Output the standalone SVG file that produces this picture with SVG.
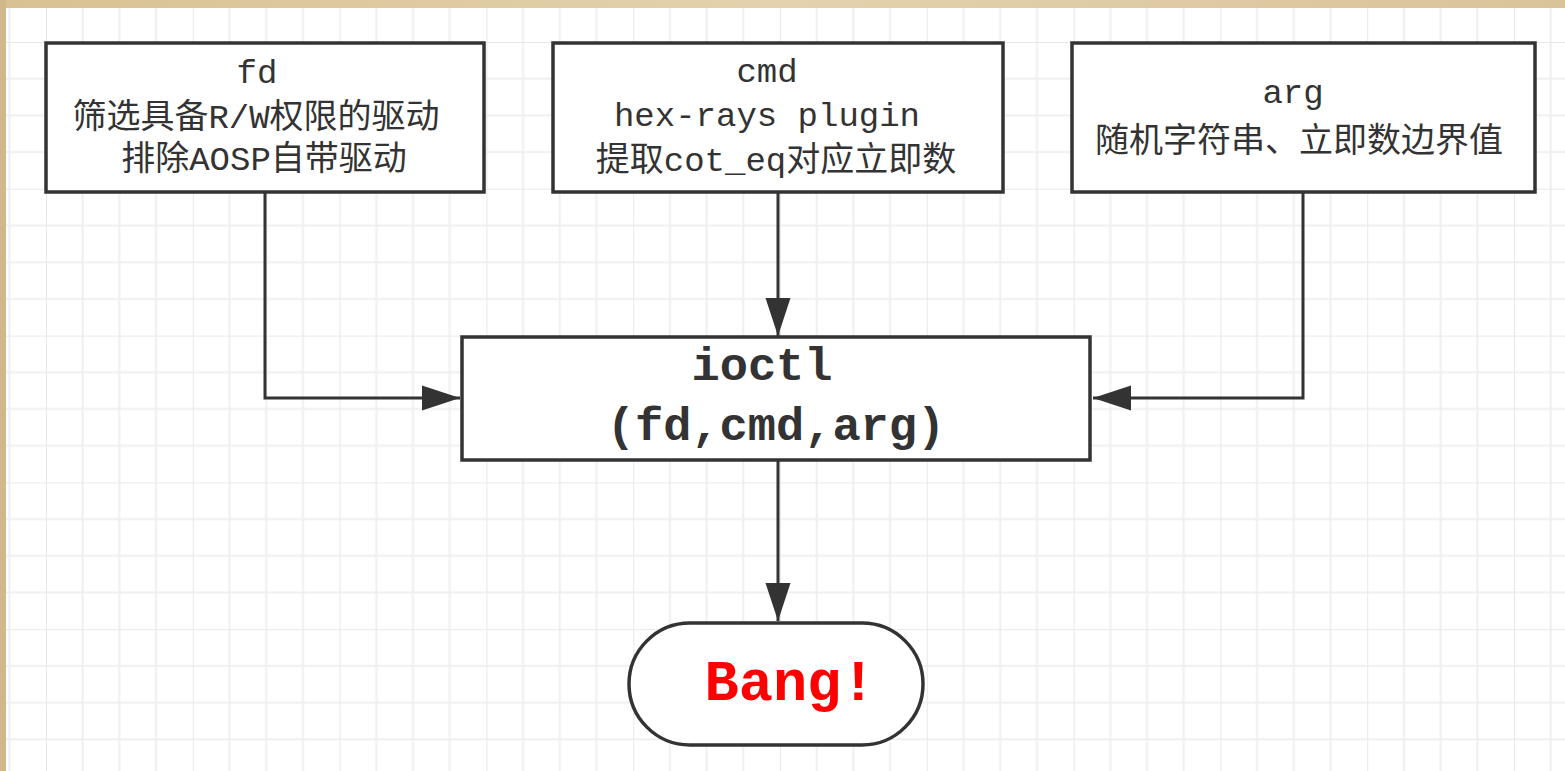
<svg xmlns="http://www.w3.org/2000/svg" width="1565" height="771" viewBox="0 0 1565 771">
  <style>
    .box { fill: #ffffff; stroke: #333333; stroke-width: 3.5; }
    .wire { fill: none; stroke: #333333; stroke-width: 3; }
    .t { font-family: "Liberation Mono", "Noto Sans CJK SC", monospace; fill: #333333; text-anchor: middle; }
    .lbl { font-size: 34px; }
    .big { font-size: 47px; font-weight: bold; }
    .bang { font-family: "Liberation Mono", monospace; font-size: 57px; font-weight: bold; fill: #ff0000; text-anchor: middle; }
  </style>
  <defs>
    <!-- 36.7px grid, heavier line every fourth cell -->
    <pattern id="grid" x="46" y="42" width="146.8" height="146.8" patternUnits="userSpaceOnUse">
      <path d="M36.7 0V146.8M73.4 0V146.8M110.1 0V146.8M0 36.7H146.8M0 73.4H146.8M0 110.1H146.8" stroke="#efefef" stroke-width="2" fill="none"/>
      <path d="M0 0V146.8M0 0H146.8" stroke="#e8e8e8" stroke-width="2" fill="none"/>
    </pattern>
    <linearGradient id="frameTop" x1="0" y1="0" x2="1" y2="0">
      <stop offset="0" stop-color="#d8c293"/>
      <stop offset="0.5" stop-color="#e3d2ad"/>
      <stop offset="1" stop-color="#d9c49a"/>
    </linearGradient>
    <marker id="arrow" markerUnits="userSpaceOnUse" markerWidth="40" markerHeight="28" viewBox="0 0 40 28" refX="38" refY="14" orient="auto">
      <path d="M0 1.5L38 14L0 26.5Z" fill="#333333"/>
    </marker>
  </defs>

  <!-- page background with grid and frame edge -->
  <rect x="0" y="0" width="1565" height="771" fill="#ffffff"/>
  <rect x="0" y="0" width="1565" height="771" fill="url(#grid)"/>
  <rect x="0" y="0" width="1565" height="8" fill="url(#frameTop)"/>
  <rect x="0" y="0" width="6" height="771" fill="#d0b888"/>

  <!-- connectors -->
  <g id="connectors">
    <path class="wire" d="M265 192V398H460" marker-end="url(#arrow)"/>
    <path class="wire" d="M778 192V336" marker-end="url(#arrow)"/>
    <path class="wire" d="M1303 192V398H1093" marker-end="url(#arrow)"/>
    <path class="wire" d="M778 460V621" marker-end="url(#arrow)"/>
  </g>

  <g id="node-fd">
    <rect class="box" x="46" y="43" width="438" height="149"/>
    <text class="t lbl" x="257" y="83">fd</text>
    <text class="t lbl" x="256" y="128">筛选具备R/W权限的驱动</text>
    <text class="t lbl" x="264" y="170">排除AOSP自带驱动</text>
  </g>

  <g id="node-cmd">
    <rect class="box" x="553" y="43" width="450" height="149"/>
    <text class="t lbl" x="767" y="82">cmd</text>
    <text class="t lbl" x="767" y="126">hex-rays plugin</text>
    <text class="t lbl" x="776" y="171">提取cot_eq对应立即数</text>
  </g>

  <g id="node-arg">
    <rect class="box" x="1072" y="43" width="463" height="149"/>
    <text class="t lbl" x="1293" y="103">arg</text>
    <text class="t lbl" x="1299" y="152">随机字符串、立即数边界值</text>
  </g>

  <g id="node-ioctl">
    <rect class="box" x="462" y="337" width="628" height="123"/>
    <text class="t big" x="762" y="380">ioctl</text>
    <text class="t big" x="776" y="440">(fd,cmd,arg)</text>
  </g>

  <g id="node-bang">
    <rect class="box" x="629" y="623" width="294" height="122" rx="61" ry="61"/>
    <text class="bang" x="790" y="700">Bang!</text>
  </g>
</svg>
